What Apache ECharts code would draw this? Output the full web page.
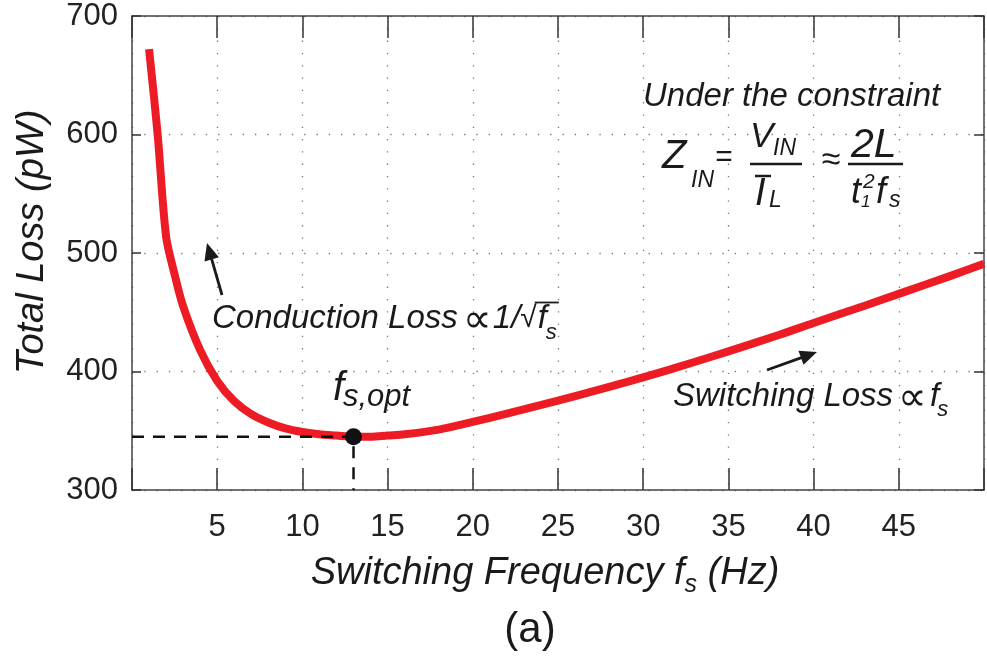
<!DOCTYPE html>
<html><head><meta charset="utf-8">
<script src="https://cdn.jsdelivr.net/npm/echarts@6/dist/echarts.min.js"></script>
<style>html,body{margin:0;padding:0;background:#fff}#c{width:987px;height:660px}</style>
</head><body><div id="c"></div><script>
// Switching frequency (Hz) and total loss (pW)
const freq = [1, 1.5, 2, 2.5, 3, 4, 5, 6, 7, 8, 9, 10, 11, 12, 13, 14, 15, 16, 18, 20, 22, 25, 28, 30, 33, 35, 38, 40, 43, 45, 48, 50];
const loss = [672, 601, 514, 482, 455, 418, 392, 375, 364, 357, 352, 349, 347, 346, 345, 345, 346, 347, 351, 357.5, 364.5, 375.5, 387, 395, 408, 417, 431, 441, 455.5, 465.5, 480.5, 491];
// optimum point
const optFreq = 13;
const optLoss = 345;
// axis ticks
const xTicks = [5, 10, 15, 20, 25, 30, 35, 40, 45];
const yTicks = [300, 400, 500, 600, 700];

const FONT = '"Liberation Sans", Arial, Helvetica, sans-serif';
const INK = '#1a1a1a';
const mctx = document.createElement('canvas').getContext('2d');
function tw(text, size, normal) {
  mctx.font = (normal ? '' : 'italic ') + size + 'px ' + FONT;
  return mctx.measureText(text).width;
}
function T(x, y, text, size, opt) {
  opt = opt || {};
  return {
    type: 'text', x: x, y: y, rotation: opt.rot || 0, z: 100,
    style: {
      text: text, fontSize: size, fontFamily: FONT,
      fontStyle: opt.normal ? 'normal' : 'italic',
      fill: INK, align: opt.align || 'left', verticalAlign: 'middle'
    }
  };
}
// chain pieces: [text, size, dy, normal, gapBefore]
function chain(x, y, pieces, center) {
  let total = 0;
  pieces.forEach(function (p) { total += (p[4] || 0) + tw(p[0], p[1], p[3]); });
  let cx = center ? x - total / 2 : x;
  const out = [];
  const pos = [];
  pieces.forEach(function (p) {
    cx += (p[4] || 0);
    out.push(T(cx, y + (p[2] || 0), p[0], p[1], { normal: p[3] }));
    pos.push(cx);
    cx += tw(p[0], p[1], p[3]);
  });
  pos.push(cx);
  out.pos = pos;
  return out;
}
function L(x1, y1, x2, y2, w) {
  return { type: 'line', z: 100, shape: { x1: x1, y1: y1, x2: x2, y2: y2 }, style: { stroke: INK, lineWidth: w || 2.5 } };
}
function arrow(x1, y1, x2, y2) {
  const dx = x2 - x1, dy = y2 - y1, len = Math.hypot(dx, dy);
  const ux = dx / len, uy = dy / len, nx = -uy, ny = ux;
  const hl = 17, hw = 7.5;
  const bx = x2 - ux * hl, by = y2 - uy * hl;
  return [
    L(x1, y1, bx + ux * 2, by + uy * 2, 2.8),
    { type: 'polygon', z: 100, shape: { points: [[x2, y2], [bx + nx * hw, by + ny * hw], [bx - nx * hw, by - ny * hw]] }, style: { fill: INK } }
  ];
}

const chart = echarts.init(document.getElementById('c'), null, { renderer: 'canvas' });
const xMin = 0, xMax = 50, yMin = yTicks[0], yMax = yTicks[yTicks.length - 1];
const axisLineStyle = { color: '#444', width: 1.5 };
const gridLine = { show: true, lineStyle: { color: '#777', width: 1.3, type: [1.3, 11] } };

const xTitle = chain(545, 573, [['Switching Frequency f', 38, 0], ['s', 25, 12], [' (Hz)', 38, 0]], true);
const cond = chain(212, 319, [['Conduction Loss', 33, 0], ['∝', 40, 2, true, 5], ['1/', 33, 0, false, 1], ['√', 30, 0, true, 0]]);
const cEnd = cond.pos[cond.pos.length - 1];
const condF = [T(cEnd + 1, 319, 'f', 33), T(cEnd + 9, 333, 's', 22), L(cEnd - 2, 302.5, cEnd + 22, 302.5, 1.8)];
const sw = chain(673, 397, [['Switching Loss', 33, 0], ['∝', 40, 2, true, 5], ['f', 33, 0, false, 3], ['s', 22, 13, false, -2]]);

const option = {
  animation: false,
  backgroundColor: '#fff',
  grid: { left: 132, right: 1, top: 16, bottom: 170, containLabel: false },
  xAxis: [
    {
      type: 'value', min: xMin, max: xMax, interval: 5, position: 'bottom',
      axisLine: { show: true, onZero: false, lineStyle: axisLineStyle },
      axisTick: { show: true, inside: true, length: 22, lineStyle: { color: '#333', width: 1.5 } },
      axisLabel: {
        show: true, margin: 22, fontSize: 31, fontFamily: FONT, color: '#222',
        formatter: function (v) { return xTicks.indexOf(v) >= 0 ? String(v) : ''; }
      },
      splitLine: gridLine
    },
    {
      type: 'value', min: xMin, max: xMax, interval: 5, position: 'top',
      axisLine: { show: true, onZero: false, lineStyle: axisLineStyle },
      axisTick: { show: true, inside: true, length: 22, lineStyle: { color: '#333', width: 1.5 } },
      axisLabel: { show: false }, splitLine: { show: false }
    }
  ],
  yAxis: [
    {
      type: 'value', min: yMin, max: yMax, interval: 100, position: 'left',
      axisLine: { show: true, onZero: false, lineStyle: axisLineStyle },
      axisTick: { show: true, inside: true, length: 9, lineStyle: { color: '#333', width: 1.5 } },
      axisLabel: { show: true, margin: 14, fontSize: 31, fontFamily: FONT, color: '#222',
        formatter: function (v) { return yTicks.indexOf(v) >= 0 ? String(v) : ''; } },
      splitLine: gridLine
    },
    {
      type: 'value', min: yMin, max: yMax, interval: 100, position: 'right',
      axisLine: { show: true, onZero: false, lineStyle: axisLineStyle },
      axisTick: { show: true, inside: true, length: 10, lineStyle: { color: '#333', width: 1.5 } },
      axisLabel: { show: false }, splitLine: { show: false }
    }
  ],
  series: [
    {
      type: 'line', name: 'Total Loss', xAxisIndex: 0, yAxisIndex: 0,
      data: freq.map(function (f, i) { return [f, loss[i]]; }),
      showSymbol: false, smooth: 0.3, z: 3,
      lineStyle: { color: '#ED1C24', width: 8, cap: 'butt', join: 'round' }
    },
    {
      type: 'line', name: 'opt guide', xAxisIndex: 0, yAxisIndex: 0,
      data: [[xMin, optLoss], [optFreq, optLoss], [optFreq, yMin]],
      showSymbol: false, z: 4,
      lineStyle: { color: '#111', width: 2.5, type: [12, 9] }
    },
    {
      type: 'scatter', name: 'opt', xAxisIndex: 0, yAxisIndex: 0,
      data: [[optFreq, optLoss]], symbolSize: 17, z: 5,
      itemStyle: { color: '#111', opacity: 1 }
    }
  ],
  graphic: [].concat(
    [
      T(32, 242, 'Total Loss (pW)', 38, { align: 'center', rot: Math.PI / 2 }),
      T(530, 630, '(a)', 42, { normal: true, align: 'center' }),
      // constraint
      T(643, 97, 'Under the constraint', 33),
      T(662, 157, 'Z', 40),
      T(691, 181, 'IN', 23),
      T(724, 158, '=', 30, { normal: true, align: 'center' }),
      T(750, 137, 'V', 35),
      T(773, 149, 'IN', 23),
      L(750, 164, 802, 164, 2.5),
      L(755, 176, 771, 176, 2.5),
      T(755, 194, 'I', 38),
      T(769, 201, 'L', 23),
      T(831, 161, '≈', 34, { normal: true, align: 'center' }),
      T(851, 146, '2L', 41),
      L(848, 164, 903, 164, 2.5),
      T(851, 193, 't', 36),
      T(863, 182, '2', 21),
      T(861, 202, '1', 17),
      T(876, 193, 'f', 36),
      T(889, 201, 's', 23),
      // f_s,opt
      T(333, 389, 'f', 40),
      T(343, 397, 's,opt', 31)
    ],
    xTitle, cond, condF, sw,
    arrow(222, 295, 207, 243),
    arrow(767, 370, 817, 352)
  )
};
chart.setOption(option);
</script></body></html>
